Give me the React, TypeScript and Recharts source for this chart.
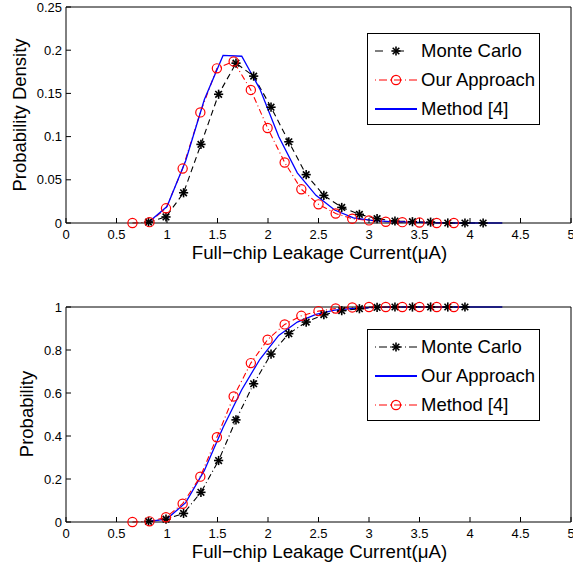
import React from 'react'
import { LineChart, Line, XAxis, YAxis, Legend } from 'recharts'

const FONT = '"Liberation Sans", Arial, Helvetica, sans-serif'

const xTicks = [0, 0.5, 1, 1.5, 2, 2.5, 3, 3.5, 4, 4.5, 5]
const pdfTicks = [0, 0.05, 0.1, 0.15, 0.2, 0.25]
const cdfTicks = [0, 0.2, 0.4, 0.6, 0.8, 1]

// Monte Carlo samples (stars)
const mcX = [0.817, 0.99, 1.164, 1.336, 1.511, 1.683, 1.858, 2.03, 2.206, 2.378, 2.553, 2.73, 2.905, 3.08, 3.257, 3.43, 3.61, 3.78, 3.95, 4.13]
const mcPdf = [0.001, 0.007, 0.035, 0.091, 0.149, 0.185, 0.17, 0.134, 0.094, 0.056, 0.032, 0.018, 0.01, 0.005, 0.0023, 0.0015, 0.001, 0, 0, 0]
const mcCdf = [0.003, 0.013, 0.04, 0.138, 0.286, 0.475, 0.643, 0.781, 0.876, 0.93, 0.964, 0.983, 0.992, 0.998, 1, 1, 1, 1, 1]

// red circles
const redX = [0.658, 0.827, 0.99, 1.155, 1.33, 1.494, 1.66, 1.83, 1.996, 2.165, 2.33, 2.5, 2.67, 2.834, 3.0, 3.166, 3.33, 3.5, 3.67, 3.84]
const redPdf = [0, 0.001, 0.017, 0.063, 0.128, 0.179, 0.187, 0.154, 0.11, 0.07, 0.039, 0.0216, 0.011, 0.005, 0.003, 0.0015, 0.001, 0.0005, 0, 0]
const redCdf = [0, 0.003, 0.022, 0.085, 0.211, 0.394, 0.584, 0.739, 0.848, 0.919, 0.959, 0.981, 0.993, 0.998, 1, 1, 1, 1, 1, 1]

// blue solid curve
const blueX = [0.817, 1.0, 1.185, 1.37, 1.555, 1.74, 1.92, 2.106, 2.29, 2.475, 2.66, 2.845, 3.03, 3.21, 3.4, 3.58, 3.77, 3.95, 4.14, 4.32]
const bluePdf = [0.001, 0.019, 0.072, 0.143, 0.194, 0.193, 0.155, 0.1, 0.058, 0.032, 0.015, 0.006, 0.003, 0.0015, 0.001, 0.0005, 0, 0, 0, 0]
const blueCdf = [0.002, 0.015, 0.09, 0.24, 0.44, 0.615, 0.757, 0.868, 0.93, 0.966, 0.985, 0.994, 0.998, 1, 1, 1, 1, 1, 1, 1]

const pairs = (xs: number[], ys: number[]) => ys.map((y, i) => ({ x: xs[i], y }))

const StarDot = (props: any) => {
  const { cx, cy, index } = props
  if (cx == null || cy == null) return <g key={`s${index}`} />
  const r = 4.6
  const d = 3.3
  return (
    <g key={`s${index}`} stroke="#000" strokeWidth={1.6}>
      <line x1={cx - r} y1={cy} x2={cx + r} y2={cy} />
      <line x1={cx} y1={cy - r} x2={cx} y2={cy + r} />
      <line x1={cx - d} y1={cy - d} x2={cx + d} y2={cy + d} />
      <line x1={cx - d} y1={cy + d} x2={cx + d} y2={cy - d} />
    </g>
  )
}

const CircleDot = (props: any) => {
  const { cx, cy, index } = props
  if (cx == null || cy == null) return <g key={`c${index}`} />
  return <circle key={`c${index}`} cx={cx} cy={cy} r={4.6} fill="none" stroke="#ff0000" strokeWidth={1.2} />
}

type Entry = { label: string; color: string; dash?: string; marker?: 'star' | 'circle'; width?: number }

const LegendBox = ({ entries }: { entries: Entry[] }) => (
  <div
    style={{
      width: 173, height: 92, boxSizing: 'border-box', border: '1px solid #000',
      background: '#fff', fontFamily: FONT, fontSize: 18.5, color: '#000', position: 'relative',
    }}
  >
    {entries.map((e, i) => (
      <div key={i} style={{ position: 'absolute', left: 6, top: 5 + 29 * i, height: 24, display: 'flex', alignItems: 'center' }}>
        <svg width={44} height={24}>
          <line x1={1} y1={12} x2={43} y2={12} stroke={e.color} strokeWidth={e.width || 1.2} strokeDasharray={e.dash} />
          {e.marker === 'star' && <StarDot cx={22} cy={12} index={i} />}
          {e.marker === 'circle' && <CircleDot cx={22} cy={12} index={i} />}
        </svg>
        <span style={{ marginLeft: 3, lineHeight: '24px', whiteSpace: 'nowrap' }}>{e.label}</span>
      </div>
    ))}
  </div>
)

const topLegend: Entry[] = [
  { label: 'Monte Carlo', color: '#000', dash: '8 13', marker: 'star' },
  { label: 'Our Approach', color: '#ff0000', dash: '1 3 8 3', marker: 'circle' },
  { label: 'Method [4]', color: '#0000ff', width: 2 },
]
const bottomLegend: Entry[] = [
  { label: 'Monte Carlo', color: '#000', dash: '1 3 8 3', marker: 'star' },
  { label: 'Our Approach', color: '#0000ff', width: 2 },
  { label: 'Method [4]', color: '#ff0000', dash: '1 3 8 3', marker: 'circle' },
]

const tickStyle = { fontSize: 13, fill: '#000', fontFamily: FONT }

const xLabel = (baseline: number) => ({
  content: () => (
    <text x={319.5} y={baseline} textAnchor="middle" fontSize={18.7} fontFamily={FONT} fill="#000">
      Full−chip Leakage Current(μA)
    </text>
  ),
})

const yLabel = (text: string, x: number, y: number) => ({
  content: () => (
    <text x={x} y={y} transform={`rotate(-90, ${x}, ${y})`} textAnchor="middle" fontSize={18.5} fontFamily={FONT} fill="#000">
      {text}
    </text>
  ),
})

function Panel(props: {
  height: number
  top: number
  xAxisHeight: number
  yTicks: number[]
  yMax: number
  xLabelBaseline: number
  yLabelText: string
  yLabelX: number
  yLabelY: number
  legendTop: number
  legend: Entry[]
  children: React.ReactNode
}) {
  return (
    <LineChart width={573} height={props.height} margin={{ top: props.top, right: 1, left: 0, bottom: 0 }}>
      <XAxis
        dataKey="x" type="number" domain={[0, 5]} ticks={xTicks} interval={0}
        stroke="#000" tickSize={-5} tickMargin={12} tick={tickStyle} height={props.xAxisHeight}
        label={xLabel(props.xLabelBaseline)}
      />
      <XAxis
        xAxisId="top" orientation="top" dataKey="x" type="number" domain={[0, 5]} ticks={xTicks}
        interval={0} stroke="#000" tickSize={-5} tick={false} height={1}
      />
      <YAxis
        type="number" domain={[0, props.yMax]} ticks={props.yTicks} interval={0}
        stroke="#000" tickSize={-5} tickMargin={9} tick={tickStyle} width={66}
        label={yLabel(props.yLabelText, props.yLabelX, props.yLabelY)}
      />
      <YAxis
        yAxisId="right" orientation="right" type="number" domain={[0, props.yMax]} ticks={props.yTicks}
        interval={0} stroke="#000" tickSize={-5} tick={false} width={1}
      />
      {props.children}
      <Legend
        layout="horizontal" verticalAlign="middle" align="center"
        content={() => <LegendBox entries={props.legend} />}
        wrapperStyle={{ position: 'absolute', top: props.legendTop, left: 367, width: 173, height: 92 }}
      />
    </LineChart>
  )
}

export default function App() {
  return (
    <div style={{ position: 'absolute', left: 0, top: 0, width: 573, height: 568, background: '#fff', fontFamily: FONT }}>
      <div style={{ position: 'absolute', left: 0, top: 0 }}>
        <Panel
          height={272} top={6} xAxisHeight={49} yTicks={pdfTicks} yMax={0.25}
          xLabelBaseline={259} yLabelText="Probability Density" yLabelX={26} yLabelY={115}
          legendTop={33} legend={topLegend}
        >
          <Line data={pairs(mcX, mcPdf)} dataKey="y" type="linear" stroke="#000" strokeWidth={1.1}
            strokeDasharray="6 4" dot={StarDot} activeDot={false} isAnimationActive={false} />
          <Line data={pairs(redX, redPdf)} dataKey="y" type="linear" stroke="#ff0000" strokeWidth={1.1}
            strokeDasharray="6 3 1 3" dot={CircleDot} activeDot={false} isAnimationActive={false} />
          <Line data={pairs(blueX, bluePdf)} dataKey="y" type="linear" stroke="#0000ff" strokeWidth={1.3}
            dot={false} activeDot={false} isAnimationActive={false} />
        </Panel>
      </div>
      <div style={{ position: 'absolute', left: 0, top: 290 }}>
        <Panel
          height={278} top={16} xAxisHeight={46} yTicks={cdfTicks} yMax={1}
          xLabelBaseline={268} yLabelText="Probability" yLabelX={33} yLabelY={124}
          legendTop={39} legend={bottomLegend}
        >
          <Line data={pairs(mcX, mcCdf)} dataKey="y" type="linear" stroke="#000" strokeWidth={1.1}
            strokeDasharray="6 3 1 3" dot={StarDot} activeDot={false} isAnimationActive={false} />
          <Line data={pairs(blueX, blueCdf)} dataKey="y" type="linear" stroke="#0000ff" strokeWidth={1.3}
            dot={false} activeDot={false} isAnimationActive={false} />
          <Line data={pairs(redX, redCdf)} dataKey="y" type="linear" stroke="#ff0000" strokeWidth={1.1}
            strokeDasharray="6 3 1 3" dot={CircleDot} activeDot={false} isAnimationActive={false} />
        </Panel>
      </div>
    </div>
  )
}
